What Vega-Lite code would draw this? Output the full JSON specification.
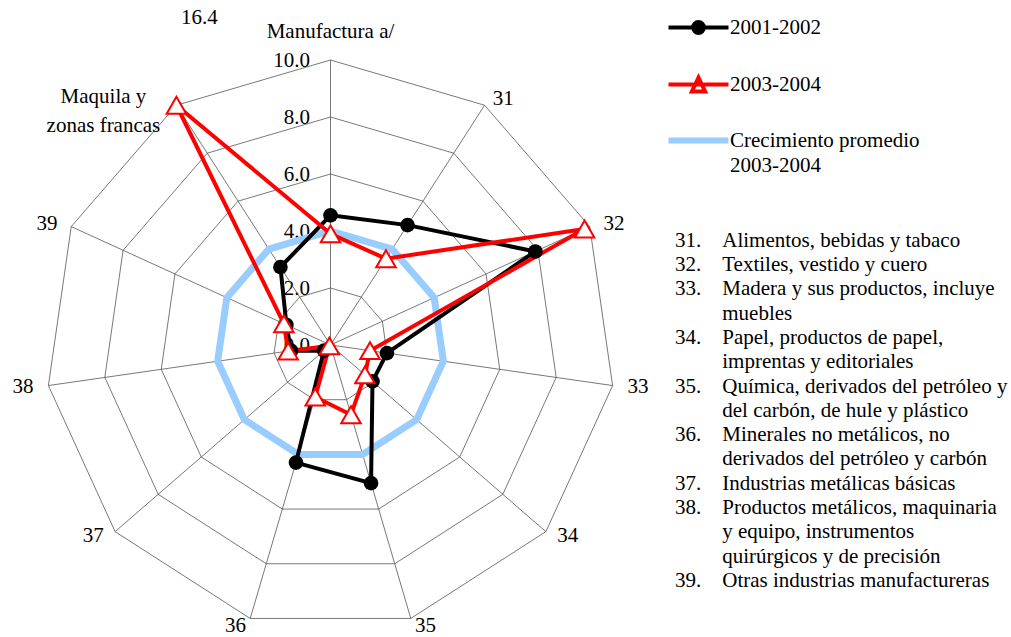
{
  "$schema": "https://vega.github.io/schema/vega-lite/v6.json",
  "width": 1011,
  "height": 637,
  "autosize": {"type": "none"},
  "padding": 0,
  "background": "white",
  "title": {
    "text": [
      "31.\u00a0\u00a0\u00a0\u00a0Alimentos, bebidas y tabaco",
      "32.\u00a0\u00a0\u00a0\u00a0Textiles, vestido y cuero",
      "33.\u00a0\u00a0\u00a0\u00a0Madera y sus productos, incluye",
      "\u200b\u00a0\u00a0\u00a0\u00a0\u00a0\u00a0\u00a0\u00a0\u00a0muebles",
      "34.\u00a0\u00a0\u00a0\u00a0Papel, productos de papel,",
      "\u200b\u00a0\u00a0\u00a0\u00a0\u00a0\u00a0\u00a0\u00a0\u00a0imprentas y editoriales",
      "35.\u00a0\u00a0\u00a0\u00a0Química, derivados del petróleo y",
      "\u200b\u00a0\u00a0\u00a0\u00a0\u00a0\u00a0\u00a0\u00a0\u00a0del carbón, de hule y plástico",
      "36.\u00a0\u00a0\u00a0\u00a0Minerales no metálicos, no",
      "\u200b\u00a0\u00a0\u00a0\u00a0\u00a0\u00a0\u00a0\u00a0\u00a0derivados del petróleo y carbón",
      "37.\u00a0\u00a0\u00a0\u00a0Industrias metálicas básicas",
      "38.\u00a0\u00a0\u00a0\u00a0Productos metálicos, maquinaria",
      "\u200b\u00a0\u00a0\u00a0\u00a0\u00a0\u00a0\u00a0\u00a0\u00a0y equipo, instrumentos",
      "\u200b\u00a0\u00a0\u00a0\u00a0\u00a0\u00a0\u00a0\u00a0\u00a0quirúrgicos y de precisión",
      "39.\u00a0\u00a0\u00a0\u00a0Otras industrias manufactureras"
    ],
    "anchor": "start", "frame": "group", "orient": "top", "align": "left", "baseline": "top",
    "font": "Liberation Serif", "fontSize": 21, "fontWeight": "normal", "color": "black", "lineHeight": 24.3,
    "dx": 675, "dy": 591, "offset": 0
  },
  "config": {
    "view": {"stroke": null},
    "text": {"font": "Liberation Serif", "fontSize": 21, "color": "black"}
  },
  "datasets": {
    "cats": [
      {"order": 0, "cat": "Manufactura a/"},
      {"order": 1, "cat": "31"},
      {"order": 2, "cat": "32"},
      {"order": 3, "cat": "33"},
      {"order": 4, "cat": "34"},
      {"order": 5, "cat": "35"},
      {"order": 6, "cat": "36"},
      {"order": 7, "cat": "37"},
      {"order": 8, "cat": "38"},
      {"order": 9, "cat": "39"},
      {"order": 10, "cat": "Maquila y zonas francas"}
    ],
    "series": [
      {"series": "2001-2002", "cat": "Manufactura a/", "value": 4.55},
      {"series": "2001-2002", "cat": "31", "value": 5.0},
      {"series": "2001-2002", "cat": "32", "value": 7.9},
      {"series": "2001-2002", "cat": "33", "value": 2.0},
      {"series": "2001-2002", "cat": "34", "value": 1.95},
      {"series": "2001-2002", "cat": "35", "value": 5.05},
      {"series": "2001-2002", "cat": "36", "value": 4.3},
      {"series": "2001-2002", "cat": "37", "value": 0.3},
      {"series": "2001-2002", "cat": "38", "value": 1.4},
      {"series": "2001-2002", "cat": "39", "value": 1.7},
      {"series": "2001-2002", "cat": "Maquila y zonas francas", "value": 3.25},
      {"series": "2003-2004", "cat": "Manufactura a/", "value": 3.9},
      {"series": "2003-2004", "cat": "31", "value": 3.6},
      {"series": "2003-2004", "cat": "32", "value": 9.8},
      {"series": "2003-2004", "cat": "33", "value": 1.4},
      {"series": "2003-2004", "cat": "34", "value": 1.6},
      {"series": "2003-2004", "cat": "35", "value": 2.55},
      {"series": "2003-2004", "cat": "36", "value": 1.9},
      {"series": "2003-2004", "cat": "37", "value": 0.05},
      {"series": "2003-2004", "cat": "38", "value": 1.5},
      {"series": "2003-2004", "cat": "39", "value": 1.8},
      {"series": "2003-2004", "cat": "Maquila y zonas francas", "value": 16.4},
      {"series": "Crecimiento promedio 2003-2004", "cat": "Manufactura a/", "value": 4.0},
      {"series": "Crecimiento promedio 2003-2004", "cat": "31", "value": 4.0},
      {"series": "Crecimiento promedio 2003-2004", "cat": "32", "value": 4.0},
      {"series": "Crecimiento promedio 2003-2004", "cat": "33", "value": 4.0},
      {"series": "Crecimiento promedio 2003-2004", "cat": "34", "value": 4.0},
      {"series": "Crecimiento promedio 2003-2004", "cat": "35", "value": 4.0},
      {"series": "Crecimiento promedio 2003-2004", "cat": "36", "value": 4.0},
      {"series": "Crecimiento promedio 2003-2004", "cat": "37", "value": 4.0},
      {"series": "Crecimiento promedio 2003-2004", "cat": "38", "value": 4.0},
      {"series": "Crecimiento promedio 2003-2004", "cat": "39", "value": 4.0},
      {"series": "Crecimiento promedio 2003-2004", "cat": "Maquila y zonas francas", "value": 4.0}
    ]
  },
  "encoding": {
    "x": {"field": "x", "type": "quantitative", "scale": {"domain": [-11.5965, 23.8772], "nice": false, "zero": false}, "axis": null},
    "y": {"field": "y", "type": "quantitative", "scale": {"domain": [-10.2456, 12.1053], "nice": false, "zero": false},
      "axis": {"title": null, "values": [0, 2, 4, 6, 8, 10], "format": ".1f", "domain": false, "ticks": false, "tickSize": 0, "grid": false,
        "labelFont": "Liberation Serif", "labelFontSize": 21, "labelColor": "black", "labelPadding": 21, "offset": -330.5, "labelOverlap": false, "labelBaseline": "middle"}}
  },
  "layer": [
    {
      "data": {"name": "cats"},
      "transform": [
        {"calculate": "datum.order * 2 * PI / 11", "as": "ang"},
        {"calculate": "[2, 4, 6, 8, 10]", "as": "ring"},
        {"flatten": ["ring"]},
        {"calculate": "datum.ring * sin(datum.ang)", "as": "x"},
        {"calculate": "datum.ring * cos(datum.ang)", "as": "y"}
      ],
      "mark": {"type": "line", "interpolate": "linear-closed", "stroke": "#555555", "strokeWidth": 0.8},
      "encoding": {"detail": {"field": "ring", "type": "nominal"}, "order": {"field": "order", "type": "quantitative"}}
    },
    {
      "data": {"name": "cats"},
      "transform": [
        {"calculate": "datum.order * 2 * PI / 11", "as": "ang"},
        {"calculate": "10 * sin(datum.ang)", "as": "x"},
        {"calculate": "10 * cos(datum.ang)", "as": "y"}
      ],
      "mark": {"type": "rule", "stroke": "#555555", "strokeWidth": 0.8},
      "encoding": {"x2": {"datum": 0}, "y2": {"datum": 0}}
    },
    {
      "data": {"name": "series"},
      "transform": [
        {"filter": "datum.series == 'Crecimiento promedio 2003-2004'"},
        {"lookup": "cat", "from": {"data": {"name": "cats"}, "key": "cat", "fields": ["order"]}},
        {"calculate": "datum.order * 2 * PI / 11", "as": "ang"},
        {"calculate": "min(datum.value, 10)", "as": "v"},
        {"calculate": "datum.v * sin(datum.ang)", "as": "x"},
        {"calculate": "datum.v * cos(datum.ang)", "as": "y"}
      ],
      "mark": {"type": "line", "interpolate": "linear-closed", "strokeWidth": 7},
      "encoding": {
        "order": {"field": "order", "type": "quantitative"},
        "color": {"field": "series", "type": "nominal",
          "scale": {"domain": ["2001-2002", "2003-2004", "Crecimiento promedio 2003-2004"], "range": ["#000000", "#ff0000", "#99ccff"]},
          "legend": {"title": null, "orient": "none", "legendX": 688, "legendY": 17, "padding": 0, "symbolSize": 3600,
            "labelFont": "Liberation Serif", "labelFontSize": 21, "labelColor": "black", "labelLimit": 400, "labelOffset": 2,
            "rowPadding": 28, "labelBaseline": "top",
            "labelExpr": "split(replace(datum.label, 'promedio ', 'promedio|'), '|')",
            "encode": {
              "labels": {"update": {"dy": {"value": -11}, "dx": {"value": 19}, "lineHeight": {"value": 25}}},
              "symbols": {"update": {
                "shape": {"signal": "datum.value === '2001-2002' ? 'M-1,0H1M0.18,0A0.18,0.18,0,1,1,-0.18,0A0.18,0.18,0,1,1,0.18,0' : datum.value === '2003-2004' ? 'M-1,0H1M0,-0.23L0.22,0.23L-0.22,0.23Z' : 'M-1,0H1'"},
                "fill": {"signal": "datum.value === '2001-2002' ? 'black' : datum.value === '2003-2004' ? 'white' : 'transparent'"},
                "strokeWidth": {"signal": "datum.value === 'Crecimiento promedio 2003-2004' ? 6 : 4"}
              }}
            }}
        }
      }
    },
    {
      "data": {"name": "series"},
      "transform": [
        {"filter": "datum.series != 'Crecimiento promedio 2003-2004'"},
        {"lookup": "cat", "from": {"data": {"name": "cats"}, "key": "cat", "fields": ["order"]}},
        {"calculate": "datum.order * 2 * PI / 11", "as": "ang"},
        {"calculate": "min(datum.value, 10)", "as": "v"},
        {"calculate": "datum.v * sin(datum.ang)", "as": "x"},
        {"calculate": "datum.v * cos(datum.ang)", "as": "y"}
      ],
      "mark": {"type": "line", "interpolate": "linear-closed", "strokeWidth": 4},
      "encoding": {
        "order": {"field": "order", "type": "quantitative"},
        "color": {"field": "series", "type": "nominal",
          "scale": {"domain": ["2001-2002", "2003-2004", "Crecimiento promedio 2003-2004"], "range": ["#000000", "#ff0000", "#99ccff"]}}
      }
    },
    {
      "data": {"name": "series"},
      "transform": [
        {"filter": "datum.series == '2001-2002'"},
        {"lookup": "cat", "from": {"data": {"name": "cats"}, "key": "cat", "fields": ["order"]}},
        {"calculate": "datum.order * 2 * PI / 11", "as": "ang"},
        {"calculate": "min(datum.value, 10)", "as": "v"},
        {"calculate": "datum.v * sin(datum.ang)", "as": "x"},
        {"calculate": "datum.v * cos(datum.ang)", "as": "y"}
      ],
      "mark": {"type": "point", "shape": "circle", "filled": true, "fill": "black", "stroke": null, "size": 215, "opacity": 1}
    },
    {
      "data": {"name": "series"},
      "transform": [
        {"filter": "datum.series == '2003-2004'"},
        {"lookup": "cat", "from": {"data": {"name": "cats"}, "key": "cat", "fields": ["order"]}},
        {"calculate": "datum.order * 2 * PI / 11", "as": "ang"},
        {"calculate": "min(datum.value, 10)", "as": "v"},
        {"calculate": "datum.v * sin(datum.ang)", "as": "x"},
        {"calculate": "datum.v * cos(datum.ang)", "as": "y"}
      ],
      "mark": {"type": "point", "shape": "triangle-up", "filled": true, "fill": "white", "stroke": "#ff0000", "strokeWidth": 2, "size": 380, "opacity": 1}
    },
    {
      "data": {"name": "series"},
      "transform": [
        {"filter": "datum.series == '2003-2004' && datum.value > 10"},
        {"lookup": "cat", "from": {"data": {"name": "cats"}, "key": "cat", "fields": ["order"]}},
        {"calculate": "datum.order * 2 * PI / 11", "as": "ang"},
        {"calculate": "min(datum.value, 10)", "as": "v"},
        {"calculate": "datum.v * sin(datum.ang)", "as": "x"},
        {"calculate": "datum.v * cos(datum.ang)", "as": "y"}
      ],
      "mark": {"type": "text", "align": "center", "baseline": "middle", "dx": 23, "dy": -87},
      "encoding": {"text": {"field": "value", "type": "quantitative", "format": ".1f"}}
    },
    {
      "data": {"name": "cats"},
      "transform": [
        {"filter": "datum.order == 0"},
        {"calculate": "datum.order * 2 * PI / 11", "as": "ang"},
        {"calculate": "10.53 * sin(datum.ang)", "as": "x"},
        {"calculate": "11 * cos(datum.ang)", "as": "y"}
      ],
      "mark": {"type": "text", "align": "center", "baseline": "middle"},
      "encoding": {"text": {"field": "cat", "type": "nominal"}}
    },
    {
      "data": {"name": "cats"},
      "transform": [
        {"filter": "datum.order >= 1 && datum.order <= 5"},
        {"calculate": "datum.order * 2 * PI / 11", "as": "ang"},
        {"calculate": "10.53 * sin(datum.ang)", "as": "x"},
        {"calculate": "10.26 * cos(datum.ang)", "as": "y"}
      ],
      "mark": {"type": "text", "align": "left", "baseline": "middle"},
      "encoding": {"text": {"field": "cat", "type": "nominal"}}
    },
    {
      "data": {"name": "cats"},
      "transform": [
        {"filter": "datum.order >= 6 && datum.order <= 9"},
        {"calculate": "datum.order * 2 * PI / 11", "as": "ang"},
        {"calculate": "10.53 * sin(datum.ang)", "as": "x"},
        {"calculate": "10.26 * cos(datum.ang)", "as": "y"}
      ],
      "mark": {"type": "text", "align": "right", "baseline": "middle"},
      "encoding": {"text": {"field": "cat", "type": "nominal"}}
    },
    {
      "data": {"name": "cats"},
      "transform": [
        {"filter": "datum.order == 10"},
        {"calculate": "datum.order * 2 * PI / 11", "as": "ang"},
        {"calculate": "10 * sin(datum.ang)", "as": "x"},
        {"calculate": "10 * cos(datum.ang)", "as": "y"},
        {"calculate": "split(replace(datum.cat, 'y zonas', 'y|zonas'), '|')", "as": "lbl"}
      ],
      "mark": {"type": "text", "align": "center", "baseline": "middle", "dx": -73, "dy": -8, "lineHeight": 29},
      "encoding": {"text": {"field": "lbl", "type": "nominal"}}
    }
  ]
}
